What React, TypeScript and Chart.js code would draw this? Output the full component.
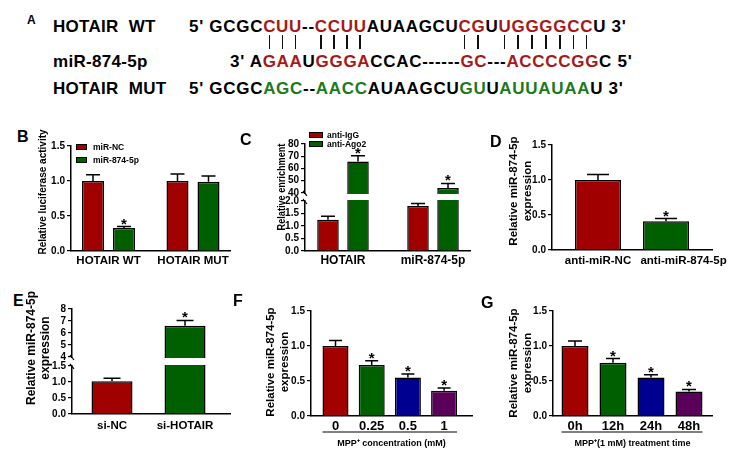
import React, { useEffect, useRef } from 'react';
import { Chart, registerables } from 'chart.js';
Chart.register(...registerables);

const FONT = "'Liberation Sans', Arial, Helvetica, sans-serif";
Chart.defaults.font.family = FONT;

const RED = '#A00000';
const GREEN = '#006000';
const BLUE = '#000090';
const PURPLE = '#5A0058';
const SEQ_RED = '#A81818';
const SEQ_GREEN = '#1C7A1C';

// ---------- Panel A (sequence alignment) ----------
const seqWT: [string, string][] = [["5' GCGC", 'k'], ['CUU', 'r'], ['--', 'k'], ['CCUU', 'r'], ['AUAAGCU', 'k'], ['CG', 'r'], ['U', 'k'], ['UGGGGCC', 'r'], ["U 3'", 'k']];
const seqMiR: [string, string][] = [["3' A", 'k'], ['GAA', 'r'], ['U', 'k'], ['GGGA', 'r'], ['CCAC------', 'k'], ['GC', 'r'], ['---', 'k'], ['ACCCCGG', 'r'], ["C 5'", 'k']];
const seqMUT: [string, string][] = [["5' GCGC", 'k'], ['AGC', 'g'], ['--', 'k'], ['AACC', 'g'], ['AUAAGCU', 'k'], ['GU', 'g'], ['U', 'k'], ['AUUAUAA', 'g'], ["U 3'", 'k']];
const rowLabels = ['HOTAIR  WT', 'miR-874-5p', 'HOTAIR  MUT'];

// ---------- Panel B ----------
const bCategories = ['HOTAIR WT', 'HOTAIR MUT'];
const bMiRNC = [1.0, 1.0];
const bMiRNCErr = [0.09, 0.10];
const bMiRNCSig = [false, false];
const bMiR874 = [0.33, 0.99];
const bMiR874Err = [0.02, 0.08];
const bMiR874Sig = [true, false];
const bTicks = [0, 0.5, 1.0, 1.5];

// ---------- Panel C ----------
const cCategories = ['HOTAIR', 'miR-874-5p'];
const cIgG = [1.25, 1.8];
const cIgGErr = [0.14, 0.10];
const cIgGSig = [false, false];
const cAgo2 = [65.8, 44.0];
const cAgo2Err = [4.6, 3.8];
const cAgo2Sig = [true, true];
const cLowerTicks = [0, 0.5, 1.0, 1.5, 2.0];
const cUpperTicks = [40, 50, 60, 70, 80];

// ---------- Panel D ----------
const dCategories = ['anti-miR-NC', 'anti-miR-874-5p'];
const dValues = [1.0, 0.41];
const dErr = [0.08, 0.04];
const dSig = [false, true];
const dTicks = [0, 0.5, 1.0, 1.5];

// ---------- Panel E ----------
const eCategories = ['si-NC', 'si-HOTAIR'];
const eValues = [1.02, 6.6];
const eErr = [0.10, 0.45];
const eSig = [false, true];
const eLowerTicks = [0, 0.5, 1.0, 1.5];
const eUpperTicks = [4, 5, 6, 7, 8];

// ---------- Panel F ----------
const fCategories = ['0', '0.25', '0.5', '1'];
const fValues = [1.0, 0.73, 0.55, 0.36];
const fErr = [0.08, 0.06, 0.05, 0.04];
const fSig = [false, true, true, true];
const fTicks = [0, 0.5, 1.0, 1.5];

// ---------- Panel G ----------
const gCategories = ['0h', '12h', '24h', '48h'];
const gValues = [1.0, 0.76, 0.55, 0.35];
const gErr = [0.07, 0.06, 0.04, 0.03];
const gSig = [false, true, true, true];
const gTicks = [0, 0.5, 1.0, 1.5];

const fmt1 = (v: number) => v.toFixed(1);
const fmt0 = (v: number) => String(v);

type Series = { name: string; values: number[]; errs: number[]; sig: boolean[]; colors: string | string[] };
type Axis = { min: number; max: number; ticks: number[]; fmt: (v: number) => string };
type Spec = {
  canvas: { x: number; y: number; w: number; h: number };
  area: { l: number; r: number; t: number; b: number };
  labels: string[];
  labelLead?: number[];
  series: Series[];
  catStart: number; catEnd: number; catPct: number; barPct: number;
  lower: Axis; upper?: Axis; breakY?: number;
  xFont: number; xPad: number; capW: number;
  xTitle?: string; xTitleY?: number; underlineY?: number;
};

const specs: Spec[] = [
  {
    canvas: { x: 40, y: 136, w: 196, h: 139 }, area: { l: 71, r: 230, t: 146, b: 251 },
    labels: bCategories,
    series: [
      { name: 'miR-NC', values: bMiRNC, errs: bMiRNCErr, sig: bMiRNCSig, colors: RED },
      { name: 'miR-874-5p', values: bMiR874, errs: bMiR874Err, sig: bMiR874Sig, colors: GREEN },
    ],
    catStart: -0.444, catEnd: 1.438, catPct: 0.734, barPct: 0.71,
    lower: { min: 0, max: 1.5, ticks: bTicks, fmt: fmt1 },
    xFont: 11.5, xPad: 3.1, capW: 14,
  },
  {
    canvas: { x: 270, y: 124, w: 206, h: 151 }, area: { l: 305, r: 470, t: 144, b: 251 },
    labels: cCategories,
    series: [
      { name: 'anti-IgG', values: cIgG, errs: cIgGErr, sig: cIgGSig, colors: RED },
      { name: 'anti-Ago2', values: cAgo2, errs: cAgo2Err, sig: cAgo2Sig, colors: GREEN },
    ],
    catStart: -0.422, catEnd: 1.411, catPct: 0.667, barPct: 0.717,
    lower: { min: 0, max: 2.16, ticks: cLowerTicks, fmt: fmt1 },
    upper: { min: 36.73, max: 80, ticks: cUpperTicks, fmt: fmt0 },
    breakY: 197,
    xFont: 12, xPad: 2.8, capW: 14,
  },
  {
    canvas: { x: 520, y: 135, w: 220, h: 140 }, area: { l: 552, r: 712, t: 145, b: 250 },
    labels: dCategories,
    labelLead: [0, 11],
    series: [{ name: 'expr', values: dValues, errs: dErr, sig: dSig, colors: [RED, GREEN] }],
    catStart: -0.676, catEnd: 1.676, catPct: 0.8, barPct: 0.846,
    lower: { min: 0, max: 1.5, ticks: dTicks, fmt: fmt1 },
    xFont: 11.5, xPad: 4.1, capW: 22,
  },
  {
    canvas: { x: 40, y: 299, w: 196, h: 141 }, area: { l: 72, r: 230, t: 309, b: 414 },
    labels: eCategories,
    series: [{ name: 'expr', values: eValues, errs: eErr, sig: eSig, colors: [RED, GREEN] }],
    catStart: -0.548, catEnd: 1.616, catPct: 0.8, barPct: 0.702,
    lower: { min: 0, max: 1.64, ticks: eLowerTicks, fmt: fmt1 },
    upper: { min: 3.625, max: 8, ticks: eUpperTicks, fmt: fmt0 },
    breakY: 361.5,
    xFont: 11.5, xPad: 5.1, capW: 17,
  },
  {
    canvas: { x: 285, y: 301, w: 193, h: 154 }, area: { l: 311, r: 472, t: 311, b: 416 },
    labels: fCategories,
    series: [{ name: 'expr', values: fValues, errs: fErr, sig: fSig, colors: [RED, GREEN, BLUE, PURPLE] }],
    catStart: -0.677, catEnd: 3.771, catPct: 0.8, barPct: 0.898,
    lower: { min: 0, max: 1.5, ticks: fTicks, fmt: fmt1 },
    xFont: 13, xPad: 2.2, capW: 13,
    xTitle: 'MPP\u207A concentration (mM)', xTitleY: 444, underlineY: 432,
  },
  {
    canvas: { x: 530, y: 301, w: 188, h: 154 }, area: { l: 553, r: 712, t: 311, b: 416 },
    labels: gCategories,
    series: [{ name: 'expr', values: gValues, errs: gErr, sig: gSig, colors: [RED, GREEN, BLUE, PURPLE] }],
    catStart: -0.579, catEnd: 3.605, catPct: 0.8, barPct: 0.888,
    lower: { min: 0, max: 1.5, ticks: gTicks, fmt: fmt1 },
    xFont: 13, xPad: 2.2, capW: 14,
    xTitle: 'MPP\u207A(1 mM) treatment time', xTitleY: 444, underlineY: 432,
  },
];

function overlayPlugin(spec: Spec) {
  return {
    id: 'overlay',
    afterDatasetsDraw(chart: any) {
      const ctx = chart.ctx as CanvasRenderingContext2D;
      const area = chart.chartArea;
      const low = chart.scales.yLow;
      const high = chart.scales.yHigh;
      ctx.save();
      if (spec.upper && high) {
        const yA = high.getPixelForValue(spec.upper.ticks[0]);
        const yB = low.getPixelForValue(spec.lower.ticks[spec.lower.ticks.length - 1]);
        ctx.fillStyle = '#fff';
        ctx.fillRect(area.left - 3, yA + 1, area.right - area.left + 3, yB - yA - 2);
        ctx.strokeStyle = '#000';
        ctx.lineWidth = 1.2;
        for (const y of [yA, yB]) {
          ctx.beginPath();
          ctx.moveTo(area.left - 2, y - 2);
          ctx.lineTo(area.left + 2, y + 3);
          ctx.stroke();
        }
      }
      ctx.strokeStyle = '#000';
      ctx.fillStyle = '#000';
      ctx.lineWidth = 1.5;
      spec.series.forEach((s, si) => {
        const meta = chart.getDatasetMeta(si);
        s.values.forEach((v, i) => {
          const bar = meta.data[i];
          if (!bar) return;
          const sc = spec.upper && v > spec.lower.max ? high : low;
          const yTop = sc.getPixelForValue(v);
          const yErr = sc.getPixelForValue(v + s.errs[i]);
          ctx.beginPath();
          ctx.moveTo(bar.x, yTop);
          ctx.lineTo(bar.x, yErr);
          ctx.moveTo(bar.x - spec.capW / 2, yErr);
          ctx.lineTo(bar.x + spec.capW / 2, yErr);
          ctx.stroke();
          if (s.sig[i]) {
            ctx.font = `bold 15px ${FONT}`;
            ctx.textAlign = 'center';
            ctx.textBaseline = 'alphabetic';
            ctx.fillText('*', bar.x, yErr + 2);
          }
        });
      });
      if (spec.underlineY !== undefined) {
        const meta = chart.getDatasetMeta(0);
        const first = meta.data[0];
        const last = meta.data[meta.data.length - 1];
        const y = spec.underlineY - spec.canvas.y;
        ctx.lineWidth = 1;
        ctx.beginPath();
        ctx.moveTo(first.x - first.width / 2, y);
        ctx.lineTo(last.x + last.width / 2, y);
        ctx.stroke();
      }
      ctx.restore();
    },
  };
}

function buildConfig(spec: Spec): any {
  const { canvas: cv, area } = spec;
  const yW = area.l - cv.x;
  const padTop = area.t - cv.y;
  const padRight = cv.x + cv.w - area.r;
  const xH = cv.y + cv.h - area.b;
  const broken = !!spec.upper;
  const common = (s: Series, si: number) => ({
    backgroundColor: s.colors,
    borderColor: '#000',
    borderWidth: 1.5,
    stack: 's' + si,
    categoryPercentage: spec.catPct,
    barPercentage: spec.barPct,
  });
  const datasets: any[] = spec.series.map((s, si) => ({
    label: s.name,
    data: broken ? s.values.map((v) => Math.min(v, spec.lower.max)) : s.values.slice(),
    yAxisID: 'yLow',
    ...common(s, si),
  }));
  if (broken) {
    spec.series.forEach((s, si) =>
      datasets.push({
        label: s.name + ' upper',
        data: s.values.map((v) => (v >= spec.upper!.min ? v : null)),
        yAxisID: 'yHigh',
        base: spec.upper!.min,
        ...common(s, si),
      })
    );
  }
  const yAxis = (ax: Axis, weight: number, stackWeight: number) => ({
    type: 'linear',
    position: 'left',
    min: ax.min,
    max: ax.max,
    stacked: false,
    weight,
    ...(broken ? { stack: 'v', stackWeight } : {}),
    afterBuildTicks: (s: any) => {
      s.ticks = ax.ticks.map((v) => ({ value: v }));
    },
    afterFit: (s: any) => {
      s.width = yW;
    },
    ticks: {
      color: '#000',
      autoSkip: false,
      padding: 2,
      font: { size: 10, weight: 'bold' },
      callback: (v: any) => ax.fmt(Number(v)),
    },
    grid: { drawOnChartArea: false, drawTicks: true, tickLength: 4, color: '#000', lineWidth: 1.2 },
    border: { display: true, color: '#000', width: 1.5 },
  });
  const lead = spec.labelLead || [];
  const scales: any = {
    x: {
      type: 'category',
      offset: true,
      afterBuildTicks: (s: any) => {
        s._startValue = spec.catStart;
        s._valueRange = spec.catEnd - spec.catStart;
      },
      afterFit: (s: any) => {
        s.height = xH;
      },
      grid: { display: false, drawTicks: false },
      border: { display: true, color: '#000', width: 1.5 },
      ticks: {
        color: '#000', autoSkip: false, maxRotation: 0, padding: spec.xPad,
        font: { size: spec.xFont, weight: 'bold' },
        callback: (_v: any, i: number) => ' '.repeat(lead[i] || 0) + spec.labels[i],
      },
      title: spec.xTitle
        ? {
            display: true,
            text: spec.xTitle,
            color: '#000',
            font: { size: 9, weight: 'bold' },
            padding: { top: 0, bottom: cv.y + cv.h - (spec.xTitleY as number) - 5.4 },
          }
        : { display: false },
    },
    yLow: yAxis(spec.lower, 0, broken ? area.b - (spec.breakY as number) : 1),
  };
  if (broken) scales.yHigh = yAxis(spec.upper!, 1, (spec.breakY as number) - area.t);
  return {
    type: 'bar',
    data: { labels: spec.labels, datasets },
    options: {
      responsive: false,
      maintainAspectRatio: false,
      animation: false,
      devicePixelRatio: 1,
      events: [],
      layout: { padding: { top: padTop, right: padRight, left: 0, bottom: 0 } },
      plugins: { legend: { display: false }, tooltip: { enabled: false }, title: { display: false } },
      scales,
    },
    plugins: [overlayPlugin(spec)],
  };
}

function BarPanel({ spec }: { spec: Spec }) {
  const ref = useRef<HTMLCanvasElement>(null);
  useEffect(() => {
    const chart = new Chart(ref.current as HTMLCanvasElement, buildConfig(spec));
    return () => chart.destroy();
  }, [spec]);
  return (
    <canvas
      ref={ref}
      width={spec.canvas.w}
      height={spec.canvas.h}
      style={{ position: 'absolute', left: spec.canvas.x, top: spec.canvas.y, width: spec.canvas.w, height: spec.canvas.h }}
    />
  );
}

function Seq({ x, y, segs, pairs }: { x: number; y: number; segs: [string, string][]; pairs?: boolean }) {
  return (
    <div
      style={{
        position: 'absolute', left: x, top: y, fontSize: 17, fontWeight: 'bold', lineHeight: '17px',
        letterSpacing: '0.7px', whiteSpace: 'pre',
      }}
    >
      {segs.map(([t, c], i) => {
        const color = c === 'r' ? SEQ_RED : c === 'g' ? SEQ_GREEN : '#000';
        if (pairs && c === 'r') {
          return (
            <span key={i} style={{ color }}>
              {t.split('').map((ch, j) => (
                <span key={j} style={{ position: 'relative' }}>
                  {ch}
                  <span
                    style={{
                      position: 'absolute', left: 'calc(50% - 1.05px)', top: 'calc(100% - 1px)',
                      width: 1.4, height: 13.5, background: '#111',
                    }}
                  />
                </span>
              ))}
            </span>
          );
        }
        return (
          <span key={i} style={{ color }}>
            {t}
          </span>
        );
      })}
    </div>
  );
}

function Txt({ x, y, size, bold, children }: { x: number; y: number; size: number; bold?: boolean; children: any }) {
  return (
    <div
      style={{
        position: 'absolute', left: x, top: y, fontSize: size, lineHeight: size + 'px',
        fontWeight: bold ? 'bold' : 'normal', whiteSpace: 'pre',
      }}
    >
      {children}
    </div>
  );
}

function YTitle({ cx, cy, lines, size, squeeze = 1 }: { cx: number; cy: number; lines: string[]; size: number; squeeze?: number }) {
  return (
    <div
      style={{
        position: 'absolute', left: cx, top: cy,
        transform: `translate(-50%, -50%) rotate(-90deg) scaleX(${squeeze})`,
        whiteSpace: 'nowrap', textAlign: 'center', fontSize: size, fontWeight: 'bold', lineHeight: '13.5px',
      }}
    >
      {lines.map((l, i) => (
        <div key={i}>{l}</div>
      ))}
    </div>
  );
}

function Legend({ x, y, rowGap, boxW, boxH, textX, items }: { x: number; y: number; rowGap: number; boxW: number; boxH: number; textX: number; items: [string, string][] }) {
  return (
    <>
      {items.map(([name, color], i) => (
        <React.Fragment key={i}>
          <div
            style={{
              position: 'absolute', left: x, top: y + i * rowGap - boxH / 2, width: boxW - 2, height: boxH - 2,
              background: color, border: '1px solid #000',
            }}
          />
          <div
            style={{
              position: 'absolute', left: textX, top: y + i * rowGap - 5, fontSize: 8.5, lineHeight: '10px',
              fontWeight: 'bold', whiteSpace: 'nowrap',
            }}
          >
            {name}
          </div>
        </React.Fragment>
      ))}
    </>
  );
}

export default function App() {
  return (
    <div
      style={{
        position: 'absolute', left: 0, top: 0, width: 755, height: 466, background: '#fff',
        overflow: 'hidden', fontFamily: FONT, color: '#000',
      }}
    >
      {specs.map((s, i) => (
        <BarPanel key={i} spec={s} />
      ))}

      {/* Panel A */}
      <Txt x={27} y={14.4} size={12} bold>A</Txt>
      <div style={{ position: 'absolute', left: 53, top: 18.3, fontSize: 17, lineHeight: '17px', fontWeight: 'bold', whiteSpace: 'pre', letterSpacing: '0.3px' }}>{rowLabels[0]}</div>
      <div style={{ position: 'absolute', left: 53, top: 52.8, fontSize: 17, lineHeight: '17px', fontWeight: 'bold', whiteSpace: 'pre', letterSpacing: '0.3px' }}>{rowLabels[1]}</div>
      <div style={{ position: 'absolute', left: 53, top: 80.3, fontSize: 17, lineHeight: '17px', fontWeight: 'bold', whiteSpace: 'pre', letterSpacing: '0.3px' }}>{rowLabels[2]}</div>
      <Seq x={189} y={18.3} segs={seqWT} pairs />
      <Seq x={230} y={52.8} segs={seqMiR} />
      <Seq x={189} y={80.3} segs={seqMUT} />

      {/* Panel letters */}
      <Txt x={17} y={129} size={16} bold>B</Txt>
      <Txt x={240} y={132} size={16} bold>C</Txt>
      <Txt x={490} y={133.5} size={16} bold>D</Txt>
      <Txt x={13} y={293} size={16} bold>E</Txt>
      <Txt x={233} y={293} size={16} bold>F</Txt>
      <Txt x={481} y={295} size={16} bold>G</Txt>

      {/* Y titles */}
      <YTitle cx={43} cy={192} size={11.5} squeeze={0.87} lines={['Relative luciferase activity']} />
      <YTitle cx={282} cy={187} size={11} squeeze={0.83} lines={['Relative enrichment']} />
      <YTitle cx={520} cy={191} size={11.5} lines={['Relative miR-874-5p', 'expression']} />
      <YTitle cx={38} cy={348} size={12} lines={['Relative miR-874-5p', 'expression']} />
      <YTitle cx={276.5} cy={362} size={11.5} lines={['Relative miR-874-5p', 'expression']} />
      <YTitle cx={519.5} cy={363} size={11.5} lines={['Relative miR-874-5p', 'expression']} />

      {/* Legends */}
      <Legend x={76} y={147} rowGap={13} boxW={11} boxH={6} textX={93} items={[['miR-NC', RED], ['miR-874-5p', GREEN]]} />
      <Legend x={309} y={134.5} rowGap={9.2} boxW={14} boxH={6} textX={327} items={[['anti-IgG', RED], ['anti-Ago2', GREEN]]} />
    </div>
  );
}
